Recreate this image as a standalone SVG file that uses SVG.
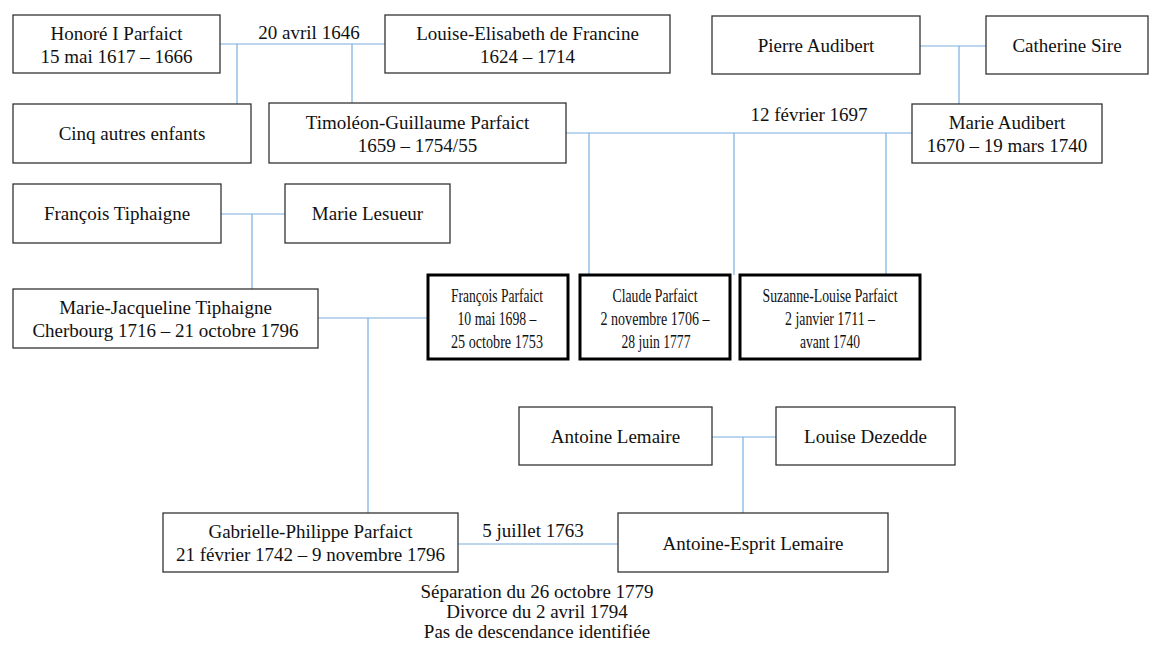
<svg xmlns="http://www.w3.org/2000/svg" width="1150" height="646" viewBox="0 0 1150 646">
<style>
.b{fill:#fff;stroke:#333;stroke-width:1.3}
.k{fill:#fff;stroke:#000;stroke-width:3}
text{font-family:'Liberation Serif',serif;font-size:19px;fill:#111;text-anchor:middle}
.n{font-size:18px}
.c{stroke:#7aaee0;stroke-width:1.2;fill:none}
</style>
<rect width="1150" height="646" fill="#fff"/>
<g id="connectors">
<path class="c" d="M220 44H385M237 44V104M352 44V103"/>
<path class="c" d="M920 46H986M959 46V104"/>
<path class="c" d="M566 133H912M589 133V275M734 133V275M886 133V275"/>
<path class="c" d="M221 214H285M252 214V289"/>
<path class="c" d="M318 318H428M368 318V513"/>
<path class="c" d="M712 437H776M743 437V513"/>
<path class="c" d="M458 544H618"/>
<text x="309" y="39">20 avril 1646</text>
<text x="809" y="121">12 février 1697</text>
<text x="533" y="537">5 juillet 1763</text>
</g>
<g id="honore"><rect class="b" x="13" y="15" width="207" height="58"/><text x="116.5" y="40">Honoré I Parfaict</text><text x="116.5" y="63">15 mai 1617 – 1666</text></g>
<g id="louise"><rect class="b" x="385" y="15" width="285" height="58"/><text x="527.5" y="40">Louise-Elisabeth de Francine</text><text x="527.5" y="63">1624 – 1714</text></g>
<g id="pierre"><rect class="b" x="712" y="16" width="208" height="58"/><text x="816" y="52">Pierre Audibert</text></g>
<g id="catherine"><rect class="b" x="986" y="16" width="162" height="58"/><text x="1067" y="52">Catherine Sire</text></g>
<g id="cinq"><rect class="b" x="13" y="104" width="238" height="59"/><text x="132" y="140">Cinq autres enfants</text></g>
<g id="timoleon"><rect class="b" x="269" y="103" width="297" height="60"/><text x="417.5" y="129">Timoléon-Guillaume Parfaict</text><text x="417.5" y="152">1659 – 1754/55</text></g>
<g id="marieaudibert"><rect class="b" x="912" y="104" width="190" height="59"/><text x="1007" y="129">Marie Audibert</text><text x="1007" y="152">1670 – 19 mars 1740</text></g>
<g id="francoist"><rect class="b" x="13" y="184" width="208" height="59"/><text x="117" y="220">François Tiphaigne</text></g>
<g id="lesueur"><rect class="b" x="285" y="184" width="165" height="59"/><text x="367.5" y="220">Marie Lesueur</text></g>
<g id="mariejacqueline"><rect class="b" x="13" y="289" width="305" height="59"/><text x="165.5" y="314">Marie-Jacqueline Tiphaigne</text><text x="165.5" y="337">Cherbourg 1716 – 21 octobre 1796</text></g>
<g id="francoisp"><rect class="k" x="428" y="275" width="140" height="84"/><text class="n" x="497" y="302" textLength="92" lengthAdjust="spacingAndGlyphs">François Parfaict</text><text class="n" x="497" y="325" textLength="79" lengthAdjust="spacingAndGlyphs">10 mai 1698 –</text><text class="n" x="497" y="348" textLength="92" lengthAdjust="spacingAndGlyphs">25 octobre 1753</text></g>
<g id="claude"><rect class="k" x="580" y="275" width="150" height="84"/><text class="n" x="655" y="302" textLength="85" lengthAdjust="spacingAndGlyphs">Claude Parfaict</text><text class="n" x="655" y="325" textLength="109" lengthAdjust="spacingAndGlyphs">2 novembre 1706 –</text><text class="n" x="656" y="348" textLength="69" lengthAdjust="spacingAndGlyphs">28 juin 1777</text></g>
<g id="suzanne"><rect class="k" x="740" y="275" width="180" height="84"/><text class="n" x="830" y="302" textLength="135" lengthAdjust="spacingAndGlyphs">Suzanne-Louise Parfaict</text><text class="n" x="830" y="325" textLength="90" lengthAdjust="spacingAndGlyphs">2 janvier 1711 –</text><text class="n" x="830" y="348" textLength="60" lengthAdjust="spacingAndGlyphs">avant 1740</text></g>
<g id="antoinel"><rect class="b" x="519" y="407" width="193" height="58"/><text x="615.5" y="443">Antoine Lemaire</text></g>
<g id="dezedde"><rect class="b" x="776" y="407" width="179" height="58"/><text x="865.5" y="443">Louise Dezedde</text></g>
<g id="gabrielle"><rect class="b" x="163" y="513" width="295" height="59"/><text x="310.5" y="538">Gabrielle-Philippe Parfaict</text><text x="310.5" y="561">21 février 1742 – 9 novembre 1796</text></g>
<g id="antoineesprit"><rect class="b" x="618" y="513" width="270" height="59"/><text x="753" y="550">Antoine-Esprit Lemaire</text></g>
<g id="note"><text x="537" y="598">Séparation du 26 octobre 1779</text><text x="537" y="618">Divorce du 2 avril 1794</text><text x="537" y="638">Pas de descendance identifiée</text></g>
</svg>
